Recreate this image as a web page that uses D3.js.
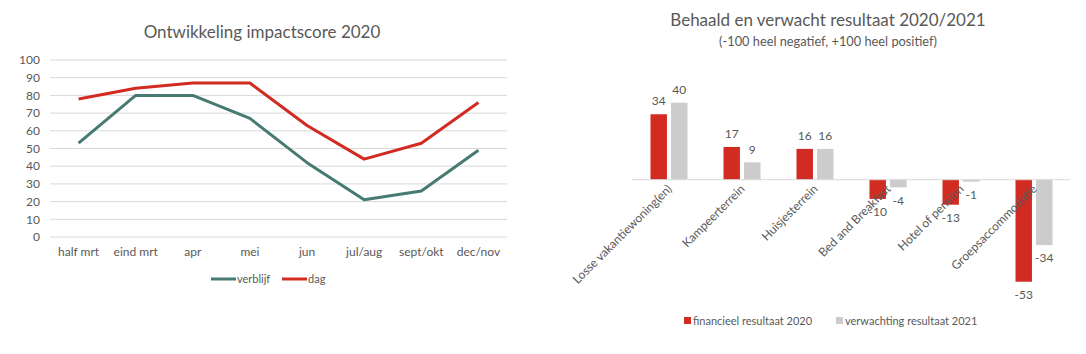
<!DOCTYPE html>
<html>
<head>
<meta charset="utf-8">
<script src="https://cdn.jsdelivr.net/npm/d3@7"></script>
<style>
  body { margin: 0; background: #fff; }
  svg { display: block; font-family: Lato, "Open Sans", sans-serif; }
  .grid line { stroke: #d9d9d9; }
  .tick-label, .cat-label, .val-label { fill: #595959; font-size: 12px; }
  .legend-label { fill: #595959; font-size: 11px; }
  .subtitle { fill: #595959; font-size: 12.8px; }
  .title { fill: #595959; font-size: 17px; }
</style>
</head>
<body>
<svg id="chart" width="1086" height="354"></svg>
<script>
  // line chart data
  var periods = ['half mrt', 'eind mrt', 'apr', 'mei', 'jun', 'jul/aug', 'sept/okt', 'dec/nov']
  var verblijf = [53, 80, 80, 67, 42, 21, 26, 49]
  var dag = [78, 84, 87, 87, 63, 44, 53, 76]
  var yTicks = [0, 10, 20, 30, 40, 50, 60, 70, 80, 90, 100]

  // bar chart data
  var accommodations = ['Losse vakantiewoning(en)', 'Kampeerterrein', 'Huisjesterrein',
    'Bed and Breakfast', 'Hotel of pension', 'Groepsaccommodatie']
  var financieel2020 = [34, 17, 16, -10, -13, -53]
  var verwachting2021 = [40, 9, 16, -4, -1, -34]

  var green = '#467a72'
  var red = '#d22b21'
  var grey = '#cccccc'

  var svg = d3.select('#chart')

  // ---- left: line chart ----
  var left = svg.append('g')

  left.append('text').attr('class', 'title')
    .attr('x', 262).attr('y', 38).attr('text-anchor', 'middle')
    .text('Ontwikkeling impactscore 2020')

  var x = d3.scaleBand().domain(periods).range([50, 507])
  var y = d3.scaleLinear().domain([0, 100]).range([237, 60])

  left.append('g').attr('class', 'grid')
    .selectAll('line').data(yTicks).enter().append('line')
    .attr('x1', 50).attr('x2', 507)
    .attr('y1', function (d) { return y(d) }).attr('y2', function (d) { return y(d) })

  left.selectAll('.ytick').data(yTicks).enter().append('text')
    .attr('class', 'tick-label').attr('text-anchor', 'end')
    .attr('x', 40).attr('y', function (d) { return y(d) }).attr('dy', '0.35em')
    .text(function (d) { return d })

  left.selectAll('.xtick').data(periods).enter().append('text')
    .attr('class', 'tick-label').attr('text-anchor', 'middle')
    .attr('x', function (d) { return x(d) + x.bandwidth() / 2 }).attr('y', 256)
    .text(function (d) { return d })

  var line = d3.line()
    .x(function (d, i) { return x(periods[i]) + x.bandwidth() / 2 })
    .y(function (d) { return y(d) })

  var series = [{ name: 'verblijf', values: verblijf, color: green },
    { name: 'dag', values: dag, color: red }]

  left.selectAll('.series').data(series).enter().append('path')
    .attr('fill', 'none').attr('stroke-width', 3).attr('stroke-linejoin', 'round')
    .attr('stroke', function (d) { return d.color })
    .attr('d', function (d) { return line(d.values) })

  var lleg = left.selectAll('.lleg').data(series).enter().append('g')
    .attr('transform', function (d, i) { return 'translate(' + [211 + i * 71, 279] + ')' })
  lleg.append('line').attr('x1', 0).attr('x2', 25)
    .attr('stroke-width', 3).attr('stroke', function (d) { return d.color })
  lleg.append('text').attr('class', 'legend-label').attr('x', 26).attr('dy', '0.35em')
    .text(function (d) { return d.name })

  // ---- right: bar chart ----
  var right = svg.append('g')

  right.append('text').attr('class', 'title')
    .attr('x', 828).attr('y', 26).attr('text-anchor', 'middle')
    .text('Behaald en verwacht resultaat 2020/2021')
  right.append('text').attr('class', 'subtitle')
    .attr('x', 828).attr('y', 46).attr('text-anchor', 'middle')
    .text('(-100 heel negatief, +100 heel positief)')

  var keys = ['financieel resultaat 2020', 'verwachting resultaat 2021']
  var colors = [red, grey]
  var bars = accommodations.map(function (c, i) {
    return { cat: c, values: [financieel2020[i], verwachting2021[i]] }
  })

  var x0 = d3.scaleBand().domain(accommodations).range([632, 1070])
  var x1 = d3.scaleBand().domain([0, 1]).range([18.5, 55.5]).paddingInner(0.2)
  var yb = d3.scaleLinear().domain([-53, 40]).range([281.7, 102.7])

  var grp = right.selectAll('.cat').data(bars).enter().append('g')
    .attr('transform', function (d) { return 'translate(' + x0(d.cat) + ',0)' })

  grp.selectAll('rect').data(function (d) { return d.values }).enter().append('rect')
    .attr('x', function (d, i) { return x1(i) })
    .attr('width', x1.bandwidth())
    .attr('y', function (d) { return yb(Math.max(0, d)) })
    .attr('height', function (d) { return Math.abs(yb(d) - yb(0)) })
    .attr('fill', function (d, i) { return colors[i] })

  right.append('line')
    .attr('x1', 632).attr('x2', 1070).attr('y1', yb(0)).attr('y2', yb(0))
    .attr('stroke', '#d9d9d9')

  grp.append('text').attr('class', 'cat-label').attr('text-anchor', 'end')
    .attr('transform', 'translate(' + (x0.bandwidth() / 2 + 4) + ',' + (yb(0) + 10) + ') rotate(-45)')
    .text(function (d) { return d.cat })

  grp.selectAll('.val-label').data(function (d) { return d.values }).enter().append('text')
    .attr('class', 'val-label').attr('text-anchor', 'middle')
    .attr('x', function (d, i) { return x1(i) + x1.bandwidth() / 2 })
    .attr('y', function (d) { return d >= 0 ? yb(d) - 13 : yb(d) + 13 })
    .attr('dy', '0.35em')
    .text(function (d) { return d })

  var rleg = right.selectAll('.rleg').data(keys).enter().append('g')
    .attr('transform', function (d, i) { return 'translate(' + [684 + i * 152, 321] + ')' })
  rleg.append('rect').attr('y', -4).attr('width', 7).attr('height', 7)
    .attr('fill', function (d, i) { return colors[i] })
  rleg.append('text').attr('class', 'legend-label').attr('x', 9).attr('dy', '0.35em')
    .text(function (d) { return d })
</script>
</body>
</html>
